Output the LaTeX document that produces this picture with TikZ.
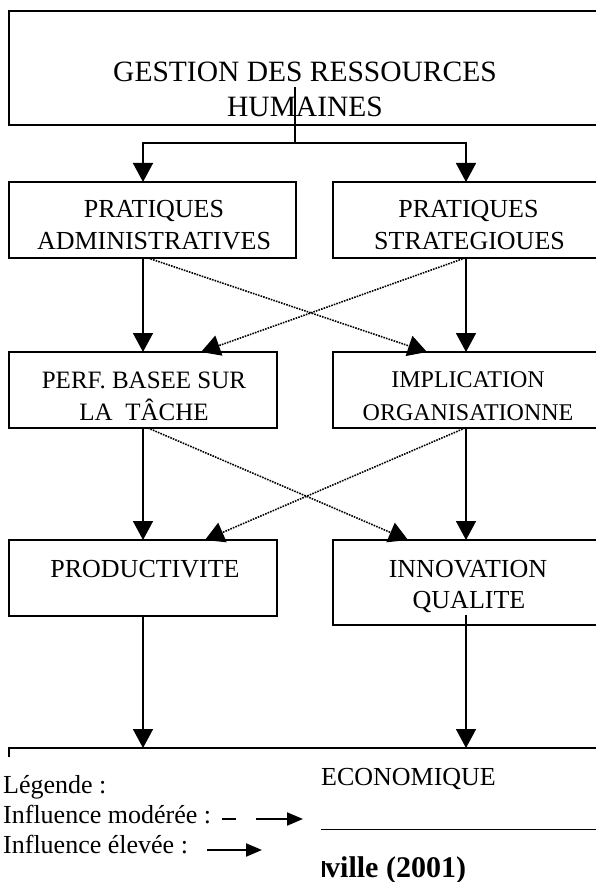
\documentclass[tikz,border=0pt]{standalone}
\usepackage{fontspec}
\setmainfont{Liberation Serif}
\usetikzlibrary{arrows.meta}
\begin{document}
\begin{tikzpicture}[x=1pt,y=-1pt,
  box/.style={draw, line width=1.6pt, rectangle, inner sep=0pt, outer sep=0pt},
  lbl/.style={anchor=base, inner sep=0pt, font=\fontsize{26}{30}\selectfont},
  lblimp/.style={anchor=base, inner sep=0pt, font=\fontsize{24}{28}\selectfont},
  lblperf/.style={anchor=base, inner sep=0pt, font=\fontsize{25}{29}\selectfont},
  leg/.style={anchor=base west, inner sep=0pt, font=\fontsize{26}{30}\selectfont},
  arr/.style={line width=1.6pt, -{Triangle[length=19pt,width=20pt]}},
  plain/.style={line width=1.6pt},
  dotarr/.style={line width=1.6pt, dash pattern=on 1.6pt off 1.1pt, -{Triangle[length=19pt,width=21pt]}},
  legarr/.style={line width=2pt, -{Triangle[length=16pt,width=13pt]}}]
\useasboundingbox (0,0) rectangle (595,882);
\fill[white] (0,0) rectangle (595,882);

% boxes
\node[box, minimum width=592pt, minimum height=114pt] (grh) at (305,68) {};
\node[box, minimum width=287pt, minimum height=76pt] (adm) at (152.5,220) {};
\node[box, minimum width=266pt, minimum height=76pt] (str) at (466,220) {};
\node[box, minimum width=268pt, minimum height=76pt] (perf) at (143,390) {};
\node[box, minimum width=266pt, minimum height=76pt] (impl) at (466,390) {};
\node[box, minimum width=268pt, minimum height=76pt] (prod) at (143,578) {};
\node[box, minimum width=266pt, minimum height=85pt] (inno) at (466,582.5) {};
\node[box, minimum width=592pt, minimum height=200pt, anchor=north west] (eco) at (9,748) {};

% texts
\node[lbl, font=\fontsize{29.5}{34}\selectfont] (grh1) at (305,82) {GESTION DES RESSOURCES};
\node[lbl, font=\fontsize{29.5}{34}\selectfont] (grh2) at (305,117) {HUMAINES};
\node[lbl] (adm1) at (154,218) {PRATIQUES};
\node[lbl] (adm2) at (154,250) {ADMINISTRATIVES};
\node[lbl] (str1) at (468.5,218) {PRATIQUES};
\node[lbl] (str2) at (469.5,250) {STRATEGIOUES};
\node[lblperf] (perf1) at (144,388) {PERF. BASEE SUR};
\node[lblperf] (perf2) at (144,420) {LA\ \ TÂCHE};
\node[lblimp] (impl1) at (468,387) {IMPLICATION};
\node[lblimp] (impl2) at (468,420) {ORGANISATIONNE};
\node[lbl] (prod1) at (145,577) {PRODUCTIVITE};
\node[lbl] (inno1) at (468,577) {INNOVATION};
\node[lbl] (inno2) at (469,608) {QUALITE};
\node[lbl] (eco1) at (408.5,785) {ECONOMIQUE};

% coordinates for connectors
\coordinate (gstart) at (295,87);
\coordinate (split) at (295,143);
\coordinate (sl) at (143,143);
\coordinate (sr) at (466,143);
\coordinate (istart) at (466,615);

% main connectors
\draw[plain] (gstart) -- (split);
\draw[arr] (split) -- (sl) -- (sl |- adm.north);
\draw[arr] (split) -- (sr) -- (sr |- str.north);
\draw[arr] (adm.south -| sl) -- (perf.north -| sl);
\draw[arr] (str.south -| sr) -- (impl.north -| sr);
\draw[arr] (perf.south -| sl) -- (prod.north -| sl);
\draw[arr] (impl.south -| sr) -- (inno.north -| sr);
\draw[arr] (prod.south -| sl) -- (eco.north -| sl);
\draw[arr] (istart) -- (eco.north -| sr);

% dotted connectors
\draw[dotarr] ([xshift=-4.5pt]adm.south) -- ([xshift=-39pt]impl.north);
\draw[dotarr] ([xshift=-1pt]str.south) -- ([xshift=58pt]perf.north);
\draw[dotarr] ([xshift=5pt]perf.south) -- ([xshift=-58pt]inno.north);
\draw[dotarr] ([xshift=-1pt]impl.south) -- ([xshift=62pt]prod.north);

% thin rule and source
\coordinate (rule) at (320,829);
\draw[line width=1pt] (rule) -- (rule -| eco.east);
\node[anchor=base west, inner sep=0pt, font=\bfseries\fontsize{30}{36}\selectfont] (src) at (325,877) {ville (2001)};
\fill (322,861) rectangle (324.5,877);

% legend
\node[fill=white, inner sep=0pt, minimum width=322pt, minimum height=126pt, anchor=north west] (legbox) at (-1,757) {};
\node[leg] (leg1) at (3,793) {Légende :};
\node[leg] (leg2) at (3,823) {Influence modérée :};
\node[leg] (leg3) at (3,853) {Influence élevée :};
\coordinate (m1) at (222,819);
\coordinate (m2) at (236,819);
\coordinate (m3) at (256,819);
\coordinate (m4) at (303,819);
\coordinate (e1) at (207,850);
\coordinate (e2) at (262,850);
\draw[line width=2pt] (m1) -- (m2);
\draw[legarr] (m3) -- (m4);
\draw[legarr] (e1) -- (e2);
\end{tikzpicture}
\end{document}
